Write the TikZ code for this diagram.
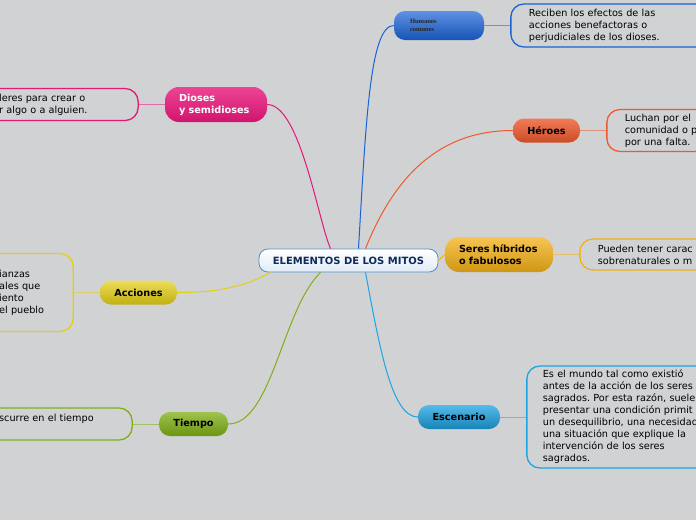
\documentclass[tikz,border=0pt]{standalone}
\usepackage{fontspec}
\setmainfont{DejaVu Sans}
\newfontfamily\smallserif{Liberation Serif}
\frenchspacing
\definecolor{MapBg}{HTML}{D1D2D4}
\definecolor{CoreBlue}{HTML}{4E8FD0}
\definecolor{CoreText}{HTML}{0E2A5A}
\definecolor{HumBlue}{HTML}{1A62D6}
\definecolor{GodPink}{HTML}{E8167A}
\definecolor{HeroRed}{HTML}{EE5A2E}
\definecolor{HybAmber}{HTML}{F4B116}
\definecolor{ActYellow}{HTML}{E3CF12}
\definecolor{TimeGreen}{HTML}{7EAF14}
\definecolor{SceneCyan}{HTML}{1CA4E4}
\usetikzlibrary{positioning}

\begin{document}
\begin{tikzpicture}[x=1pt, y=-1pt, node distance=26pt,
    every node/.style={font=\fontsize{9.7}{12}\selectfont},
    topic/.style={rounded corners=11pt, inner xsep=14pt, inner ysep=0pt, minimum height=24pt,
      align=left, font=\fontsize{9.7}{12}\selectfont\bfseries},
    note/.style={draw=#1, line width=1.3pt, rounded corners=13pt, inner xsep=18pt, inner ysep=0pt, align=left},
    branch/.style={draw=#1, line width=1pt},
    link/.style={draw=#1!55!MapBg, line width=0.8pt}]
  \fill[MapBg] (0,0) rectangle (696,520);
  \useasboundingbox (0,0) rectangle (696,520);
  \clip (0,0) rectangle (696,520);

  % main topic
  \node[draw=CoreBlue, line width=0.8pt, rounded corners=9pt, top color=white, bottom color=CoreBlue!18,
    minimum width=179pt, minimum height=23pt, inner ysep=0pt, text=CoreText,
    font=\fontsize{10}{12}\selectfont\bfseries] (core) at (348.5,260.5) {ELEMENTOS DE LOS MITOS};

  % branches
  \node[topic, top color=HumBlue!70!white, bottom color=HumBlue!85!black, minimum width=90pt, minimum height=29pt,
    inner xsep=16pt, text width=58pt, text=black!85, font=\smallserif\fontsize{6.5}{8.5}\selectfont\bfseries]
    (hum) at (439,25.5) {Humanos\\comunes};
  \node[topic, top color=GodPink!80!white, bottom color=GodPink!90!black, minimum width=102pt, minimum height=35pt,
    rounded corners=14pt, text width=74pt, text=white] (god) at (216,104.5) {Dioses\\y semidioses};
  \node[topic, top color=HeroRed!80!white, bottom color=HeroRed!85!black, minimum width=67pt] (hero) at (546.5,130.5) {Héroes};
  \node[topic, top color=HybAmber!75!white, bottom color=HybAmber!85!black, minimum width=108pt, minimum height=35pt,
    rounded corners=14pt, text width=80pt] (hyb) at (499,254.5) {Seres híbridos\\o fabulosos};
  \node[topic, top color=ActYellow!70!white, bottom color=ActYellow!85!black, minimum width=77pt] (act) at (138.5,292.5) {Acciones};
  \node[topic, top color=TimeGreen!75!white, bottom color=TimeGreen!85!black, minimum width=69pt] (time) at (193.5,424) {Tiempo};
  \node[topic, top color=SceneCyan!75!white, bottom color=SceneCyan!80!black, minimum width=82pt] (scene) at (459,417) {Escenario};

  % notes
  \node[note=HumBlue, minimum height=43pt, text width=190pt, right=of hum] (humtxt)
    {Reciben los efectos de las\\acciones benefactoras o\\perjudiciales de los dioses.};
  \node[note=GodPink, minimum height=32pt, text width=121pt, left=of god] (godtxt)
    {leres para crear o\\r algo o a alguien.};
  \node[note=HeroRed, minimum height=42pt, text width=150pt, right=of hero] (herotxt)
    {Luchan por el\\comunidad o p\\por una falta.};
  \node[note=HybAmber, minimum height=31pt, text width=150pt, right=of hyb] (hybtxt)
    {Pueden tener carac\\sobrenaturales o m};
  \node[note=ActYellow, minimum height=78pt, text width=56pt, left=of act] (acttxt)
    {ianzas\\ales que\\iento\\el pueblo};
  \node[note=TimeGreen, minimum height=32pt, text width=115pt, left=of time] (timetxt)
    {scurre en el tiempo\\\mbox{}};
  \node[note=SceneCyan, minimum height=102pt, text width=190pt, inner xsep=16pt, right=of scene] (scenetxt)
    {Es el mundo tal como existió\\antes de la acción de los seres\\sagrados. Por esta razón, suele\\presentar una condición primit\\un desequilibrio, una necesidad\\una situación que explique la\\intervención de los seres\\sagrados.};

  % curved branches
  \draw[branch=GodPink] ([xshift=-18pt]core.north) .. controls (318,220) and (300,104.5) .. (god.east);
  \draw[branch=HumBlue] ([xshift=10pt]core.north) .. controls (366,120) and (370,25.5) .. (hum.west);
  \draw[branch=HeroRed] ([xshift=17pt]core.north) .. controls (395,175) and (440,130.5) .. (hero.west);
  \draw[branch=HybAmber] (core.east) -- (hyb.west);
  \draw[branch=ActYellow] ([xshift=-78pt]core.south) .. controls (240,290) and (205,292.5) .. (act.east);
  \draw[branch=TimeGreen] ([xshift=-28pt]core.south) .. controls (282,310) and (272,424) .. (time.east);
  \draw[branch=SceneCyan] ([xshift=17pt]core.south) .. controls (380,350) and (392,417) .. (scene.west);

  % links to notes
  \draw[link=HumBlue] (hum) -- (humtxt);
  \draw[link=GodPink] (god) -- (godtxt);
  \draw[link=HeroRed] (hero) -- (herotxt);
  \draw[link=HybAmber] (hyb) -- (hybtxt);
  \draw[link=ActYellow] (act) -- (acttxt);
  \draw[link=TimeGreen] (time) -- (timetxt);
  \draw[link=SceneCyan] (scene) -- (scenetxt);
\end{tikzpicture}
\end{document}
